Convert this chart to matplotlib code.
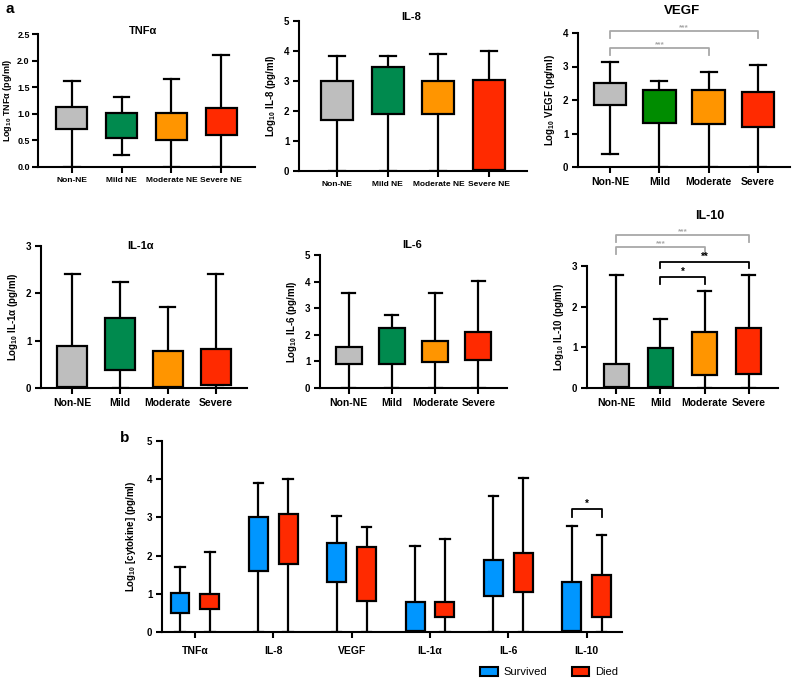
import matplotlib
matplotlib.use('Agg')
import matplotlib.pyplot as plt
from matplotlib.patches import Patch

plt.rcParams['font.family'] = ['Liberation Sans', 'DejaVu Sans']
plt.rcParams['mathtext.default'] = 'regular'
plt.rcParams['font.weight'] = 'bold'

W, H = 794, 680

# five-number summaries per group: [whisker low, q1, median, q3, whisker high]
ne_groups = ['Non-NE', 'Mild NE', 'Moderate NE', 'Severe NE']
ne_short = ['Non-NE', 'Mild', 'Moderate', 'Severe']
ne_colors = ['#BEBEBE', '#008A4E', '#FF9500', '#FF2A00']
vegf_colors = ['#BEBEBE', '#008C00', '#FF9500', '#FF2A00']

tnf_stats = [[0, 0.72, 0.93, 1.12, 1.61],
             [0.22, 0.55, 0.75, 1.01, 1.31],
             [0, 0.50, 0.77, 1.02, 1.65],
             [0, 0.61, 0.89, 1.11, 2.10]]
il8_stats = [[0, 1.70, 2.56, 3.00, 3.84],
             [0, 1.89, 2.84, 3.48, 3.84],
             [0, 1.89, 2.43, 3.00, 3.89],
             [0, 0.03, 2.27, 3.02, 4.00]]
vegf_stats = [[0.40, 1.86, 2.29, 2.50, 3.13],
              [0, 1.31, 1.92, 2.31, 2.57],
              [0, 1.27, 1.98, 2.31, 2.85],
              [0, 1.18, 1.86, 2.25, 3.04]]
il1a_stats = [[0, 0.02, 0.53, 0.88, 2.41],
              [0, 0.39, 0.61, 1.48, 2.23],
              [0, 0.02, 0.48, 0.78, 1.71],
              [0, 0.07, 0.54, 0.83, 2.41]]
il6_stats = [[0, 0.90, 1.27, 1.56, 3.57],
             [0, 0.92, 1.39, 2.26, 2.76],
             [0, 0.97, 1.38, 1.77, 3.58],
             [0, 1.06, 1.48, 2.11, 4.03]]
il10_stats = [[0, 0.02, 0.30, 0.60, 2.79],
              [0, 0.02, 0.04, 0.98, 1.69],
              [0, 0.31, 0.88, 1.38, 2.39],
              [0, 0.34, 0.97, 1.48, 2.79]]

cytokines = ['TNF\u03b1', 'IL-8', 'VEGF', 'IL-1\u03b1', 'IL-6', 'IL-10']
survived_stats = [[0, 0.49, 0.78, 1.02, 1.71],
                  [0, 1.60, 2.33, 3.01, 3.89],
                  [0, 1.30, 1.98, 2.33, 3.04],
                  [0, 0.02, 0.44, 0.78, 2.24],
                  [0, 0.95, 1.39, 1.88, 3.56],
                  [0, 0.02, 0.74, 1.32, 2.77]]
died_stats = [[0, 0.59, 0.85, 1.00, 2.09],
              [0, 1.79, 2.62, 3.08, 4.01],
              [0, 0.82, 1.70, 2.22, 2.74],
              [0, 0.38, 0.57, 0.78, 2.44],
              [0, 1.04, 1.43, 2.06, 4.04],
              [0, 0.39, 1.09, 1.48, 2.54]]
outcome_labels = ['Survived', 'Died']
outcome_colors = ['#0096FF', '#FF2A00']


def px_axes(fig, left, top, right, bottom):
    return fig.add_axes([left / W, 1 - bottom / H, (right - left) / W, (bottom - top) / H])


def draw_box(ax, summary, positions, colors, width):
    stats = [dict(whislo=s[0], q1=s[1], med=s[2], q3=s[3], whishi=s[4]) for s in summary]
    lw = 1.6
    bp = ax.bxp(stats, positions=positions, widths=width, showfliers=False,
                patch_artist=True, manage_ticks=False,
                boxprops=dict(linewidth=lw, edgecolor='black'),
                medianprops=dict(color='black', linewidth=lw),
                whiskerprops=dict(linewidth=lw, color='black'),
                capprops=dict(linewidth=lw, color='black'))
    for patch, c in zip(bp['boxes'], colors):
        patch.set_facecolor(c)
        patch.set_zorder(3)


def style(ax):
    for s in ['top', 'right']:
        ax.spines[s].set_visible(False)
    for s in ['left', 'bottom']:
        ax.spines[s].set_linewidth(1.5)
    ax.tick_params(width=1.5, length=4, labelsize=7, pad=3)
    for lab in ax.get_xticklabels() + ax.get_yticklabels():
        lab.set_fontweight('bold')


def bracket(ax, x1, x2, y, drop, text, color, lw=1.3, fs=6):
    ax.plot([x1, x1, x2, x2], [y - drop, y, y, y - drop], color=color, lw=lw, clip_on=False)
    ax.text((x1 + x2) / 2, y, text, ha='center', va='bottom', color=color,
            fontsize=fs, clip_on=False)


fig = plt.figure(figsize=(W / 100, H / 100), dpi=100)

panels = [
    (tnf_stats, (38, 34, 255, 167), 2.5, 0.5, ne_groups, 'Log$_{10}$ TNF\u03b1 (pg/ml)', 'TNF\u03b1', (143, 31), 8, 0.68, 0.62, ne_colors),
    (il8_stats, (299, 21, 527, 171), 5, 1, ne_groups, 'Log$_{10}$ IL-8 (pg/ml)', 'IL-8', (411, 17), 8, 0.75, 0.63, ne_colors),
    (vegf_stats, (578, 33, 790, 167), 4, 1, ne_short, 'Log$_{10}$ VEGF (pg/ml)', 'VEGF', (682, 11), 9.5, 0.65, 0.66, vegf_colors),
    (il1a_stats, (41, 246, 247, 388), 3, 1, ne_short, 'Log$_{10}$ IL-1\u03b1 (pg/ml)', 'IL-1\u03b1', (140, 246), 8, 0.66, 0.63, ne_colors),
    (il6_stats, (320, 255, 507, 388), 5, 1, ne_short, 'Log$_{10}$ IL-6 (pg/ml)', 'IL-6', (412, 245), 8, 0.66, 0.6, ne_colors),
    (il10_stats, (587, 266, 778, 388), 3, 1, ne_short, 'Log$_{10}$ IL-10 (pg/ml)', 'IL-10', (710, 216), 9, 0.67, 0.58, ne_colors),
]

axes = []
for stats, box, ymax, step, labels, ylabel, title, tpos, tfs, margin, bw, colors in panels:
    ax = px_axes(fig, *box)
    pos = list(range(len(stats)))
    draw_box(ax, stats, pos, colors, bw)
    ax.set_xlim(-margin, len(stats) - 1 + margin)
    ax.set_ylim(0, ymax)
    n = int(round(ymax / step))
    ticks = [i * step for i in range(n + 1)]
    ax.set_yticks(ticks)
    if step < 1:
        ax.set_yticklabels(['%.1f' % t for t in ticks])
    ax.set_xticks(pos)
    fsx = 6 if labels is ne_groups else 7.5
    ax.set_xticklabels(labels, fontsize=fsx)
    style(ax)
    ax.tick_params(axis='x', labelsize=fsx)
    if step < 1:
        ax.tick_params(axis='y', labelsize=6.5, pad=2)
        ax.set_ylabel(ylabel, fontsize=6.5, fontweight='bold', labelpad=2)
    else:
        ax.set_ylabel(ylabel, fontsize=7, fontweight='bold', labelpad=4)
    fig.text(tpos[0] / W, 1 - tpos[1] / H, title, ha='center', va='center',
             fontsize=tfs, fontweight='bold')
    axes.append(ax)

grey = '#A8A8A8'
ax_vegf = axes[2]
bracket(ax_vegf, 0, 2, 3.55, 0.2, '***', grey)
bracket(ax_vegf, 0, 3, 4.06, 0.2, '***', grey)

ax_il10 = axes[5]
bracket(ax_il10, 1, 2, 2.73, 0.17, '*', 'black', fs=7)
bracket(ax_il10, 1, 3, 3.10, 0.14, '**', 'black', fs=7)
bracket(ax_il10, 0, 2, 3.46, 0.16, '***', grey)
bracket(ax_il10, 0, 3, 3.76, 0.16, '***', grey)

fig.text(5 / W, 1 - 9 / H, 'a', fontsize=11, fontweight='bold', va='center')

# panel b
axb = px_axes(fig, 162, 441, 622, 632)
offset, bw = 0.19, 0.24
xs = list(range(len(cytokines)))
draw_box(axb, survived_stats, [x - offset for x in xs], [outcome_colors[0]] * len(xs), bw)
draw_box(axb, died_stats, [x + offset for x in xs], [outcome_colors[1]] * len(xs), bw)
axb.set_xlim(-0.42, len(xs) - 1 + 0.45)
axb.set_ylim(0, 5)
axb.set_yticks(range(6))
axb.set_xticks(xs)
axb.set_xticklabels(cytokines, fontsize=7.5)
axb.set_ylabel('Log$_{10}$ [cytokine] (pg/ml)', fontsize=7, fontweight='bold', labelpad=6)
style(axb)
axb.tick_params(axis='x', labelsize=7.5, pad=6)
bracket(axb, 5 - offset, 5 + offset, 3.22, 0.2, '*', 'black', fs=7)

fig.text(120 / W, 1 - 438 / H, 'b', fontsize=11, fontweight='bold', va='center')

handles = [Patch(facecolor=c, edgecolor='black', linewidth=1.5) for c in outcome_colors]
leg = fig.legend(handles, outcome_labels, loc='center', bbox_to_anchor=(549 / W, 1 - 672 / H),
                 ncol=2, frameon=False, prop={'size': 8, 'weight': 'normal'},
                 handlelength=1.6, handleheight=0.9, columnspacing=2.2, handletextpad=0.5)

fig.savefig('out.png', dpi=100)
